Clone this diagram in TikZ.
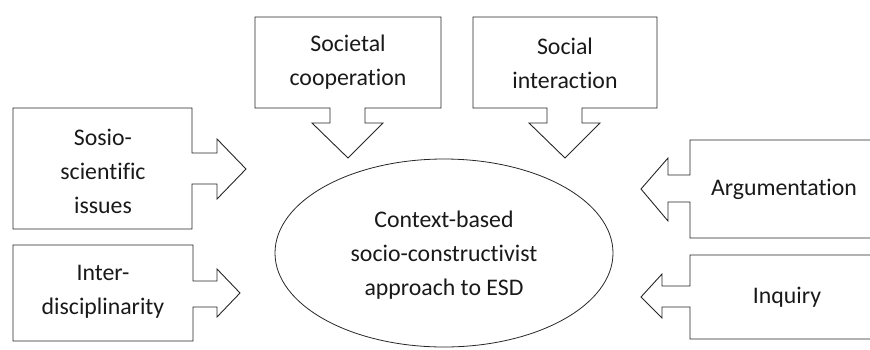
\documentclass[tikz,border=0pt]{standalone}
\usepackage{fontspec}
\setmainfont[Ligatures={NoCommon}]{Carlito}
\usetikzlibrary{shapes.geometric}
\tikzset{
  outline/.style={draw=black!85, line width=0.9pt, line join=miter},
  lbl/.style={align=center, inner sep=0pt, text=black!90, font=\fontsize{23.8}{34}\selectfont}
}

\begin{document}
\begin{tikzpicture}[x=1pt, y=-1pt]
			%%%%% FRAME %%%%%
			\useasboundingbox (0, 0) rectangle (870, 349);
			
			%%%%% TOP CALLOUTS %%%%%
			\draw[outline] (255, 17) -- (441, 17) -- (441, 108) -- (365, 108) -- (365, 123) -- (383, 123)
			  -- (348, 158) -- (312, 123) -- (330, 123) -- (330, 108) -- (255, 108) -- cycle;
			\node[lbl] (societal) at (348, 62) {Societal\\cooperation};
			
			\draw[outline] (473, 17) -- (657, 17) -- (657, 108) -- (582, 108) -- (582, 123) -- (600, 123)
			  -- (565, 158) -- (529, 123) -- (547, 123) -- (547, 108) -- (473, 108) -- cycle;
			\node[lbl] (social) at (565, 63) {Social\\interaction};
			
			%%%%% LEFT CALLOUTS %%%%%
			\draw[outline] (13, 108) -- (192, 108) -- (192, 153) -- (217, 153) -- (217, 139)
			  -- (246, 169) -- (217, 199) -- (217, 184) -- (192, 184) -- (192, 229) -- (13, 229) -- cycle;
			\node[lbl] (sosio) at (103, 171) {Sosio-\\scientific\\issues};
			
			\draw[outline] (13, 245) -- (193, 245) -- (193, 281) -- (217, 281) -- (217, 269)
			  -- (240, 293) -- (217, 317) -- (217, 307) -- (193, 307) -- (193, 341) -- (13, 341) -- cycle;
			\node[lbl] (inter) at (103, 292) {Inter-\\disciplinarity};
			
			%%%%% RIGHT CALLOUTS %%%%%
			\draw[outline] (880, 140) -- (690, 140) -- (690, 175) -- (668, 175) -- (668, 158)
			  -- (641, 189) -- (668, 221) -- (668, 202) -- (690, 202) -- (690, 238) -- (880, 238);
			\node[lbl] (argu) at (784, 189) {Argumentation};
			
			\draw[outline] (880, 255) -- (690, 255) -- (690, 286) -- (662, 286) -- (662, 274)
			  -- (641, 297) -- (662, 318) -- (662, 307) -- (690, 307) -- (690, 339) -- (880, 339);
			\node[lbl] (inquiry) at (787, 297) {Inquiry};
			
			%%%%% CENTRE %%%%%
			\node[ellipse, outline, line width=0.8pt, minimum width=338pt, minimum height=188pt, inner sep=0pt] (esdring) at (444, 253) {};
			\node[lbl] (esd) at (444, 255) {Context-based\\socio-constructivist\\approach to ESD};
			
			%%%%% END %%%%%
\end{tikzpicture}
\end{document}
